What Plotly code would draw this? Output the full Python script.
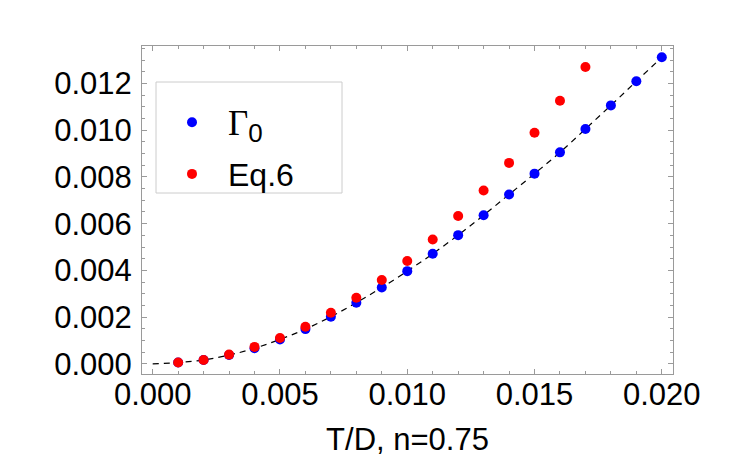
import plotly.graph_objects as go

# --- data ---
t_over_d = [0.001, 0.002, 0.003, 0.004, 0.005, 0.006, 0.007, 0.008, 0.009, 0.010,
            0.011, 0.012, 0.013, 0.014, 0.015, 0.016, 0.017, 0.018, 0.019, 0.020]
gamma0 = [0.00006, 0.00017, 0.00038, 0.00067, 0.00105, 0.00149, 0.00202, 0.00262, 0.00327, 0.00397,
          0.00471, 0.00551, 0.00636, 0.00725, 0.00814, 0.00905, 0.01005, 0.01106, 0.01209, 0.01312]
eq6_x = [0.001, 0.002, 0.003, 0.004, 0.005, 0.006, 0.007, 0.008, 0.009,
         0.010, 0.011, 0.012, 0.013, 0.014, 0.015, 0.016, 0.017]
eq6 = [0.00006, 0.00017, 0.00040, 0.00073, 0.00111, 0.00159, 0.00219, 0.00283, 0.00359,
       0.00440, 0.00532, 0.00633, 0.00742, 0.00860, 0.00989, 0.01126, 0.01270]
fit_x = [0.0] + t_over_d
fit_y = [0.0] + gamma0
x_ticks = [0.000, 0.005, 0.010, 0.015, 0.020]
x_labels = ["0.000", "0.005", "0.010", "0.015", "0.020"]
y_ticks = [0.000, 0.002, 0.004, 0.006, 0.008, 0.010, 0.012]
y_labels = ["0.000", "0.002", "0.004", "0.006", "0.008", "0.010", "0.012"]

FONT = "Liberation Sans, Arial, sans-serif"
GRAY = "#9a9a9a"

fig = go.Figure()
fig.add_trace(go.Scatter(x=fit_x, y=fit_y, mode="lines", line=dict(color="black", width=1.2, dash="6px,5px", shape="spline"),
                         showlegend=False, hoverinfo="skip"))
fig.add_trace(go.Scatter(x=t_over_d, y=gamma0, mode="markers", marker=dict(color="#0000ff", size=10),
                         name="<span style='font-family:Liberation Serif;font-size:35px'>Γ</span>"
                              "<sub><span style='font-size:26px'>0</span></sub>", legendgroup="a"))
fig.add_trace(go.Scatter(x=eq6_x, y=eq6, mode="markers", marker=dict(color="#ff0000", size=10),
                         name="Eq.6", legendgroup="b"))

axis_common = dict(showline=True, linecolor=GRAY, linewidth=1, mirror="allticks", ticks="inside",
                   tickcolor=GRAY, ticklen=5, showgrid=False, zeroline=False,
                   tickfont=dict(family=FONT, size=31, color="black"))
fig.update_xaxes(range=[-0.00042, 0.02044], tickvals=x_ticks, ticktext=x_labels,
                 minor=dict(dtick=0.001, tick0=0, ticks="inside", ticklen=3, tickcolor=GRAY),
                 title=dict(text="T/D, n=0.75", font=dict(family=FONT, size=31, color="black"), standoff=17),
                 ticklabelstandoff=-7, **axis_common)
fig.update_yaxes(range=[-0.00043, 0.0136], tickvals=y_ticks, ticktext=y_labels,
                 minor=dict(dtick=0.0005, tick0=0, ticks="inside", ticklen=3, tickcolor=GRAY),
                 ticklabelstandoff=3, **axis_common)

# legend frame
fig.add_shape(type="rect", xref="paper", yref="paper",
              x0=(156 - 142) / 531, x1=(342 - 142) / 531,
              y0=(374 - 193) / 328, y1=(374 - 82) / 328,
              line=dict(color="#cccccc", width=1), fillcolor="white", layer="below")

fig.update_layout(
    width=750, height=467,
    margin=dict(l=142, r=77, t=46, b=93),
    paper_bgcolor="white", plot_bgcolor="white",
    legend=dict(x=(156 - 142) / 531, y=(374 - 95) / 328, xanchor="left", yanchor="top",
                bgcolor="rgba(0,0,0,0)", borderwidth=0, itemwidth=62, traceorder="grouped",
                tracegroupgap=7, font=dict(family=FONT, size=32, color="black")),
)

fig.write_html("out.html")
